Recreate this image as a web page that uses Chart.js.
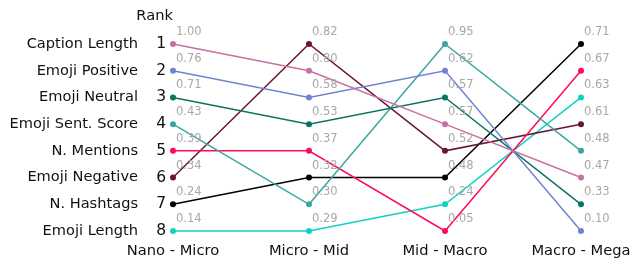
<!DOCTYPE html>
<html><head><meta charset="utf-8">
<script src="https://cdn.jsdelivr.net/npm/chart.js@4"></script>
<style>html,body{margin:0;padding:0;background:#fff}#wrap{width:631px;height:263px}</style>
</head><body><div id="wrap"><canvas id="c" width="631" height="263"></canvas></div>
<script>
// ---- data ----
const groups = ['Nano - Micro', 'Micro - Mid', 'Mid - Macro', 'Macro - Mega'];
const features = ['Caption Length', 'Emoji Positive', 'Emoji Neutral', 'Emoji Sent. Score', 'N. Mentions', 'Emoji Negative', 'N. Hashtags', 'Emoji Length'];
const rankLabels = ['1', '2', '3', '4', '5', '6', '7', '8'];
const axisTitle = 'Rank';

const captionLengthRank = [1, 2, 4, 6];
const captionLengthValue = [1.00, 0.80, 0.57, 0.47];
const emojiPositiveRank = [2, 3, 2, 8];
const emojiPositiveValue = [0.76, 0.58, 0.62, 0.10];
const emojiNeutralRank = [3, 4, 3, 7];
const emojiNeutralValue = [0.71, 0.53, 0.57, 0.33];
const emojiSentScoreRank = [4, 7, 1, 5];
const emojiSentScoreValue = [0.43, 0.30, 0.95, 0.48];
const nMentionsRank = [5, 5, 8, 2];
const nMentionsValue = [0.39, 0.37, 0.05, 0.67];
const emojiNegativeRank = [6, 1, 5, 4];
const emojiNegativeValue = [0.34, 0.82, 0.52, 0.61];
const nHashtagsRank = [7, 6, 6, 1];
const nHashtagsValue = [0.24, 0.32, 0.48, 0.71];
const emojiLengthRank = [8, 8, 7, 3];
const emojiLengthValue = [0.14, 0.29, 0.24, 0.63];

const seriesColors = ['#c96fa2', '#7083d1', '#0b7362', '#3aa6a0', '#ff0a55', '#6b1535', '#000000', '#12d0c4'];

const seriesRanks = [captionLengthRank, emojiPositiveRank, emojiNeutralRank, emojiSentScoreRank, nMentionsRank, emojiNegativeRank, nHashtagsRank, emojiLengthRank];
const seriesValues = [captionLengthValue, emojiPositiveValue, emojiNeutralValue, emojiSentScoreValue, nMentionsValue, emojiNegativeValue, nHashtagsValue, emojiLengthValue];

const FONT = 'DejaVu Sans';

const datasets = features.map((f, i) => ({
  label: f,
  data: seriesRanks[i],
  values: seriesValues[i],
  borderColor: seriesColors[i],
  backgroundColor: seriesColors[i],
  pointBackgroundColor: seriesColors[i],
  pointBorderColor: seriesColors[i],
  borderWidth: 1.5,
  pointRadius: 3,
  pointBorderWidth: 0,
  tension: 0,
  clip: false,
  yAxisID: 'yRank'
}));

const valueLabels = {
  id: 'valueLabels',
  afterDatasetsDraw(chart) {
    const ctx = chart.ctx;
    ctx.save();
    ctx.font = '11.5px "' + FONT + '"';
    ctx.fillStyle = '#a8a8a8';
    ctx.textAlign = 'left';
    ctx.textBaseline = 'middle';
    chart.data.datasets.forEach((ds, i) => {
      const meta = chart.getDatasetMeta(i);
      meta.data.forEach((pt, j) => {
        ctx.fillText(ds.values[j].toFixed(2), pt.x + 3, pt.y - 12);
      });
    });
    ctx.restore();
  }
};

const rankTitle = {
  id: 'rankTitle',
  afterDraw(chart) {
    const ctx = chart.ctx;
    ctx.save();
    ctx.font = '14.7px "' + FONT + '"';
    ctx.fillStyle = '#111';
    ctx.textAlign = 'right';
    ctx.textBaseline = 'middle';
    ctx.fillText(axisTitle, chart.chartArea.left, 16);
    ctx.restore();
  }
};

new Chart(document.getElementById('c'), {
  type: 'line',
  data: { labels: groups, datasets },
  plugins: [valueLabels, rankTitle],
  options: {
    responsive: false,
    animation: false,
    devicePixelRatio: 1,
    layout: { padding: { top: 44, right: 0, bottom: 0, left: 0 } },
    plugins: { legend: { display: false }, tooltip: { enabled: false } },
    scales: {
      x: {
        type: 'category',
        offset: false,
        grid: { display: false, drawTicks: false },
        border: { display: false },
        ticks: { font: { family: FONT, size: 14.7 }, color: '#111', padding: 11, maxRotation: 0, autoSkip: false },
        afterFit: s => { s.height = 32; s.paddingRight = 50; s.paddingLeft = 0; }
      },
      yRank: {
        position: 'left',
        weight: 0,
        min: 1, max: 8, reverse: true,
        grid: { display: false, drawTicks: false },
        border: { display: false },
        ticks: { stepSize: 1, autoSkip: false, font: { family: FONT, size: 15.5 }, color: '#111', padding: 7,
          callback: v => rankLabels[v - 1] },
        afterFit: s => { s.width = 23; }
      },
      yName: {
        position: 'left',
        weight: 1,
        min: 1, max: 8, reverse: true,
        grid: { display: false, drawTicks: false },
        border: { display: false },
        ticks: { stepSize: 1, autoSkip: false, font: { family: FONT, size: 14.6 }, color: '#111', padding: 12,
          callback: v => features[v - 1] },
        afterFit: s => { s.width = 150; }
      }
    }
  }
});
</script></body></html>
